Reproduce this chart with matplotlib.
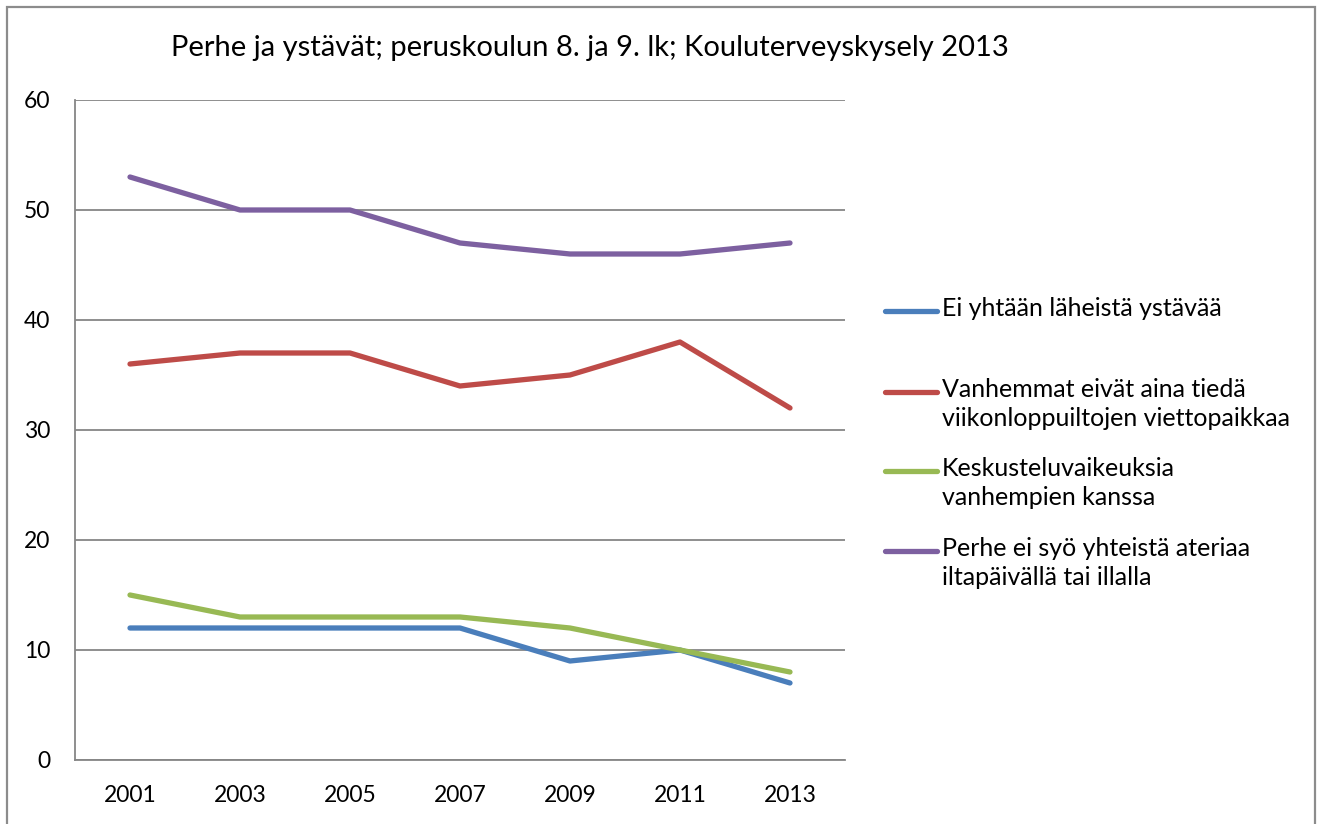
import matplotlib
matplotlib.use("Agg")
import matplotlib.pyplot as plt
from matplotlib.lines import Line2D
from matplotlib.patches import Rectangle

years = ["2001", "2003", "2005", "2007", "2009", "2011", "2013"]
ei_ystavaa = [12, 12, 12, 12, 9, 10, 7]
vanhemmat_eivat_tieda = [36, 37, 37, 34, 35, 38, 32]
keskusteluvaikeuksia = [15, 13, 13, 13, 12, 10, 8]
ei_yhteista_ateriaa = [53, 50, 50, 47, 46, 46, 47]

labels = [
    "Ei yhtään läheistä ystävää",
    "Vanhemmat eivät aina tiedä\nviikonloppuiltojen viettopaikkaa",
    "Keskusteluvaikeuksia\nvanhempien kanssa",
    "Perhe ei syö yhteistä ateriaa\niltapäivällä tai illalla",
]
series = [ei_ystavaa, vanhemmat_eivat_tieda, keskusteluvaikeuksia, ei_yhteista_ateriaa]
colors = ["#4A7EBB", "#BE4B48", "#98B954", "#7D60A0"]
title = "Perhe ja ystävät; peruskoulun 8. ja 9. lk; Kouluterveyskysely 2013"

plt.rcParams['font.family'] = ['Lato', 'DejaVu Sans']

W, H = 1322, 824
fig = plt.figure(figsize=(W / 100, H / 100), dpi=100)

def fx(px):
    return px / W

def fy(py):
    return 1 - py / H

# outer border
fig.add_artist(Rectangle((fx(7), fy(830)), fx(1315) - fx(7), fy(7) - fy(830),
                         transform=fig.transFigure, fill=False,
                         edgecolor="#8c8c8c", linewidth=1.6, clip_on=False))

ax = fig.add_axes([fx(75), fy(760), fx(845) - fx(75), fy(100) - fy(760)])
x = list(range(len(years)))
for vals, c in zip(series, colors):
    ax.plot(x, vals, color=c, linewidth=3.8, solid_capstyle="round",
            solid_joinstyle="round", zorder=3)

ax.set_xlim(-0.5, len(years) - 0.5)
ax.set_ylim(0, 60)
ax.set_yticks(range(0, 61, 10))
ax.set_xticks(x)
ax.set_xticklabels(years)
ax.grid(axis="y", color="#868686", linewidth=1.3)
ax.set_axisbelow(True)
for s in ["top", "right"]:
    ax.spines[s].set_visible(False)
for s in ["left", "bottom"]:
    ax.spines[s].set_color("#868686")
    ax.spines[s].set_linewidth(1.3)
ax.tick_params(axis="both", length=0, labelsize=16.5, colors="black")
ax.tick_params(axis="y", pad=18)
ax.tick_params(axis="x", pad=18)

fig.text(fx(590), fy(48), title, ha="center", va="center", fontsize=21)

# legend
first_line_y = [311, 392, 471, 551]
for lab, c, yy in zip(labels, colors, first_line_y):
    fig.add_artist(Line2D([fx(885), fx(937)], [fy(yy), fy(yy)],
                          transform=fig.transFigure, color=c,
                          linewidth=3.8, solid_capstyle="round"))
    fig.text(fx(942), fy(yy - 14), lab, ha="left", va="top", fontsize=18,
             linespacing=1.33)

fig.savefig("out.png", dpi=100)
